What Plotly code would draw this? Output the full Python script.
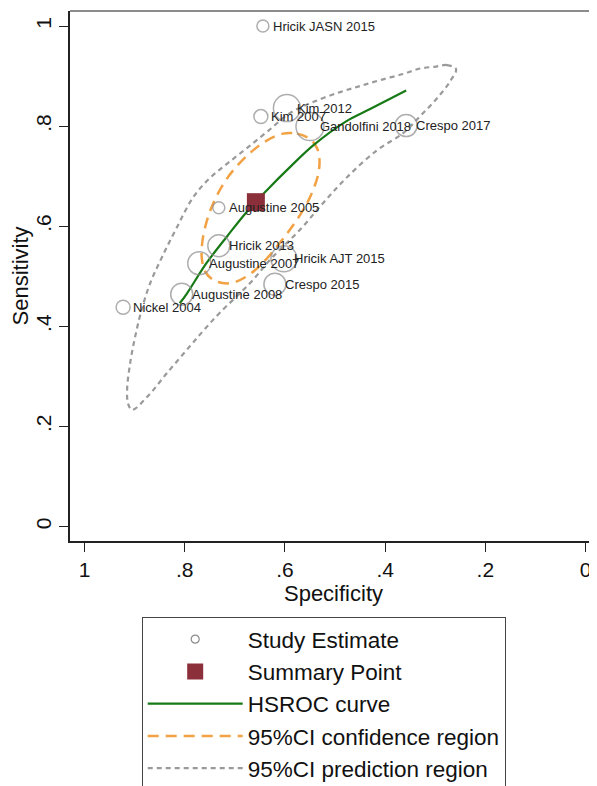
import plotly.graph_objects as go

# ---- data ----
study_names = ["Nickel 2004", "Augustine 2008", "Augustine 2007", "Hricik 2013",
               "Augustine 2005", "Hricik AJT 2015", "Crespo 2015", "Kim 2007",
               "Kim 2012", "Gandolfini 2018", "Crespo 2017", "Hricik JASN 2015"]
study_spec = [0.923, 0.806, 0.771, 0.732, 0.732, 0.602, 0.620, 0.648, 0.596, 0.550, 0.358, 0.644]
study_sens = [0.438, 0.464, 0.526, 0.561, 0.637, 0.535, 0.484, 0.819, 0.836, 0.799, 0.801, 1.000]

summary_spec = [0.658]
summary_sens = [0.648]

hsroc_spec = [0.810, 0.796, 0.756, 0.716, 0.676, 0.636, 0.590, 0.543, 0.477, 0.430, 0.358]
hsroc_sens = [0.446, 0.465, 0.527, 0.579, 0.629, 0.672, 0.718, 0.762, 0.810, 0.834, 0.871]

conf_spec = [0.604, 0.576, 0.550, 0.536, 0.531, 0.534, 0.544, 0.558, 0.580, 0.610, 0.644,
             0.676, 0.710, 0.740, 0.759, 0.766, 0.765, 0.759, 0.746, 0.726, 0.703, 0.670,
             0.638, 0.604]
conf_sens = [0.785, 0.785, 0.774, 0.756, 0.732, 0.702, 0.672, 0.642, 0.607, 0.567, 0.527,
             0.500, 0.486, 0.491, 0.509, 0.537, 0.567, 0.599, 0.639, 0.679, 0.712, 0.746,
             0.770, 0.785]

pred_spec = [0.2585, 0.2764, 0.2984, 0.3303, 0.3643, 0.4102, 0.4501, 0.490, 0.544, 0.590,
             0.634, 0.676, 0.714, 0.750, 0.783, 0.815, 0.845, 0.869, 0.886, 0.899, 0.909,
             0.915, 0.913, 0.905, 0.875, 0.835, 0.789, 0.763, 0.730, 0.670, 0.624, 0.570,
             0.524, 0.476, 0.416, 0.364, 0.330, 0.296, 0.270, 0.2585]
pred_sens = [0.914, 0.922, 0.919, 0.915, 0.904, 0.892, 0.880, 0.868, 0.848, 0.826,
             0.790, 0.756, 0.726, 0.696, 0.658, 0.599, 0.539, 0.486, 0.433, 0.379, 0.326,
             0.273, 0.245, 0.233, 0.259, 0.307, 0.361, 0.391, 0.427, 0.486, 0.539, 0.593,
             0.646, 0.698, 0.752, 0.786, 0.820, 0.856, 0.890, 0.914]

tick_vals = [0, 0.2, 0.4, 0.6, 0.8, 1]
tick_text = ["0", ".2", ".4", ".6", ".8", "1"]

# ---- styles (kept apart from data) ----
study_marker_px = [14, 22, 23, 22, 12, 26, 22, 14, 27, 28, 22, 12]
FONT = "Liberation Sans, Arial, sans-serif"
GRAY = "#8c8c8c"

fig = go.Figure()

fig.add_trace(go.Scatter(
    x=pred_spec, y=pred_sens, mode="lines", showlegend=False, hoverinfo="skip",
    line=dict(color="#9a9a9a", width=2.2, dash="5px,4px"), line_shape="spline"))
fig.add_trace(go.Scatter(
    x=conf_spec, y=conf_sens, mode="lines", showlegend=False, hoverinfo="skip",
    line=dict(color="#f2a244", width=2.5, dash="11px,7px"), line_shape="spline"))
fig.add_trace(go.Scatter(
    x=hsroc_spec, y=hsroc_sens, mode="lines", showlegend=False, hoverinfo="skip",
    line=dict(color="#177a17", width=2.2), line_shape="spline"))
fig.add_trace(go.Scatter(
    x=study_spec, y=study_sens, mode="markers", showlegend=False, text=study_names,
    marker=dict(symbol="circle-open", size=study_marker_px, color=GRAY,
                line=dict(width=1.5, color=GRAY))))
fig.add_trace(go.Scatter(
    x=summary_spec, y=summary_sens, mode="markers", showlegend=False,
    marker=dict(symbol="square", size=18, color="#8b2f3a")))

# legend entries
fig.add_trace(go.Scatter(x=[None], y=[None], mode="markers", name="Study Estimate",
                         legendgroup="a",
                         marker=dict(symbol="circle-open", size=8, color=GRAY,
                                     line=dict(width=1.2, color=GRAY))))
fig.add_trace(go.Scatter(x=[None], y=[None], mode="markers", name="Summary Point",
                         legendgroup="b",
                         marker=dict(symbol="square", size=18, color="#8b2f3a")))
fig.add_trace(go.Scatter(x=[None], y=[None], mode="lines", name="HSROC curve",
                         legendgroup="c", line=dict(color="#177a17", width=2.2)))
fig.add_trace(go.Scatter(x=[None], y=[None], mode="lines", name="95%CI confidence region",
                         legendgroup="d",
                         line=dict(color="#f2a244", width=2.5, dash="11px,7px")))
fig.add_trace(go.Scatter(x=[None], y=[None], mode="lines", name="95%CI prediction region",
                         legendgroup="e",
                         line=dict(color="#9a9a9a", width=2.2, dash="5px,4px")))

for nm, sx, sy in zip(study_names, study_spec, study_sens):
    fig.add_annotation(x=sx, y=sy, text=nm, showarrow=False, xanchor="left",
                       yanchor="middle", xshift=8,
                       font=dict(family=FONT, size=13, color="#222222"))

fig.add_shape(type="line", xref="paper", yref="paper", x0=0, x1=1, y0=1, y1=1,
              line=dict(color="#666666", width=1.5))

# page body has an 8px margin, so the figure is sized/placed to compensate
W, H = 589, 778
L, T, B = 62, 3, 245
plot_w = W - L
x_left = 1.029
x_right = x_left - plot_w / 501.0

fig.update_layout(
    width=W, height=H,
    margin=dict(l=L, r=0, t=T, b=B, autoexpand=False),
    paper_bgcolor="white", plot_bgcolor="white",
    font=dict(family=FONT, color="#111111"),
    showlegend=True,
    legend=dict(x=(141.7 - 8 - L) / plot_w, y=-76 / 530.0, xanchor="left", yanchor="top",
                bordercolor="#444444", borderwidth=1, bgcolor="white",
                font=dict(family=FONT, size=22.5, color="#111111"),
                itemwidth=95, tracegroupgap=0, traceorder="grouped"),
    xaxis=dict(range=[x_left, x_right], tickvals=tick_vals, ticktext=tick_text,
               showgrid=False, zeroline=False, showline=True, linecolor="#222222",
               linewidth=1.5, ticks="outside", ticklen=9, tickwidth=1.3, tickcolor="#222222",
               tickfont=dict(family=FONT, size=21, color="#111111"),
               title=dict(text="Specificity", font=dict(family=FONT, size=22, color="#111111"),
                          standoff=2)),
    yaxis=dict(range=[-0.029, 1.030], tickvals=tick_vals, ticktext=tick_text,
               showgrid=False, zeroline=False, showline=True, linecolor="#222222",
               linewidth=1.5, ticks="outside", ticklen=9, tickwidth=1.3, tickcolor="#222222",
               tickangle=-90,
               tickfont=dict(family=FONT, size=21, color="#111111"),
               title=dict(text="Sensitivity", font=dict(family=FONT, size=22, color="#111111"),
                          standoff=0)),
)

fig.write_html("out.html")
